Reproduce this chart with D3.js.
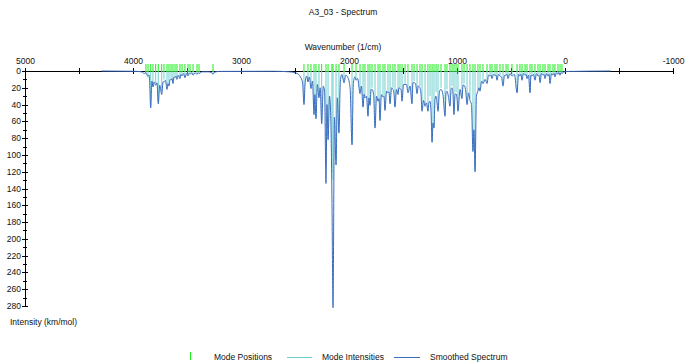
<!DOCTYPE html>
<html lang="en">
<head>
  <meta charset="UTF-8">
  <title>A3_03 - Spectrum</title>
  <script src="https://d3js.org/d3.v7.min.js"></script>
  <style>
    body { margin: 0; background: #fff; }
    text { font-family: "Liberation Sans", Arial, sans-serif; font-size: 8.5px; fill: #111; }
    .axis path, .axis line { stroke: #000; shape-rendering: crispEdges; }
  </style>
</head>
<body>
  <script>
    const width = 685, height = 362;

    // mode positions (1/cm) and their intensities (km/mol)
    const modeWavenumbers = [
      3880, 3861, 3836, 3815, 3790, 3766, 3734, 3713, 3685, 3667, 3648, 3630, 3611, 3593,
      3565, 3546, 3519, 3491, 3472, 3444, 3407, 3389, 3259,
      2417, 2380, 2352, 2324, 2306, 2278, 2253, 2213, 2194, 2158, 2148, 2120, 2093, 2046,
      1972, 1935, 1898, 1870, 1852, 1824, 1806, 1787, 1759, 1731, 1713, 1685, 1667, 1639,
      1620, 1593, 1574, 1546, 1528, 1509, 1481, 1454, 1417, 1398, 1370, 1343, 1324, 1296,
      1269, 1250, 1231, 1213, 1194, 1176, 1148, 1111, 1093, 1065, 1046, 1028, 1009, 991,
      954, 935, 907, 880, 852, 833, 806, 787, 759, 722, 694, 676, 648, 630, 602, 574, 546,
      528, 491, 444, 417, 398, 370, 352, 324, 306, 278, 250, 231, 204, 185, 157, 139, 111,
      93, 65, 46, 28
    ];
    const modeIntensities = [
      3, 8, 42, 17, 14, 37, 25, 10, 19, 15, 9, 14, 6, 8,
      7, 4, 7, 5, 3, 4, 3, 2, 3,
      38, 12, 20, 50, 56, 30, 62, 110, 80, 120, 130, 105, 73, 14,
      86, 10, 25, 42, 30, 52, 39, 20, 66, 35, 58, 30, 46, 25,
      38, 20, 42, 27, 20, 35, 15, 25, 38, 12, 26, 18, 46, 40,
      46, 30, 84, 66, 25, 46, 20, 52, 22, 40, 18, 50, 25, 46,
      31, 15, 38, 33, 94, 118, 23, 23, 14, 14, 5, 8, 4, 10, 5, 17, 4,
      8, 5, 25, 5, 10, 4, 8, 25, 5, 10, 5, 13, 4, 8, 5, 14, 4,
      6, 3, 4, 2
    ];

    // smoothed spectrum
    const smoothWavenumbers = [
      4290, 4000, 3920, 3895, 3880, 3865, 3850, 3836, 3825, 3815, 3803, 3790, 3778, 3766,
      3752, 3734, 3722, 3713, 3700, 3685, 3676, 3667, 3656, 3648, 3638, 3630, 3620, 3611,
      3602, 3593, 3580, 3565, 3555, 3546, 3532, 3519, 3505, 3491, 3480, 3472, 3458, 3444,
      3425, 3407, 3396, 3389, 3360, 3300, 3272, 3259, 3247, 3200, 2700, 2550, 2480, 2450,
      2430, 2417, 2405, 2392, 2380, 2367, 2352, 2338, 2324, 2316, 2306, 2293, 2278, 2267,
      2253, 2238, 2226, 2213, 2204, 2194, 2180, 2168, 2158, 2148, 2135, 2120, 2108, 2093,
      2080, 2066, 2046, 2030, 2010, 1990, 1972, 1960, 1945, 1935, 1920, 1898, 1885, 1870,
      1860, 1852, 1838, 1824, 1815, 1806, 1795, 1787, 1772, 1759, 1745, 1731, 1722, 1713,
      1700, 1685, 1676, 1667, 1652, 1639, 1630, 1620, 1606, 1593, 1585, 1574, 1560, 1546,
      1538, 1528, 1518, 1509, 1495, 1481, 1468, 1454, 1435, 1417, 1408, 1398, 1384, 1370,
      1358, 1343, 1333, 1324, 1310, 1296, 1283, 1269, 1260, 1250, 1240, 1231, 1222, 1213,
      1204, 1194, 1185, 1176, 1162, 1148, 1130, 1111, 1102, 1093, 1080, 1065, 1055, 1046,
      1037, 1028, 1018, 1009, 1000, 991, 972, 954, 944, 935, 921, 907, 893, 880, 866, 852,
      843, 833, 820, 806, 796, 787, 772, 759, 740, 722, 708, 694, 685, 676, 662, 648, 639,
      630, 616, 602, 588, 574, 560, 546, 537, 528, 510, 491, 468, 444, 430, 417, 408, 398,
      385, 370, 361, 352, 338, 324, 315, 306, 292, 278, 264, 250, 240, 231, 218, 204, 195,
      185, 171, 157, 148, 139, 125, 111, 102, 93, 79, 65, 56, 46, 37, 28, 10, -50, -420
    ];
    const smoothIntensities = [
      0, 0.3, 1, 3, 2, 6, 5, 44, 12, 19, 13, 17, 14, 39,
      17, 28, 13, 13, 11, 22, 15, 18, 10, 11, 9, 15, 7, 8,
      6, 10, 5, 9, 4, 6, 3, 8, 3, 6, 3, 4, 2, 5,
      2, 4, 2, 3, 1, 1, 2, 4, 1.5, 0.5, 0.3, 1, 3, 7,
      14, 40, 12, 6, 13, 7, 21, 12, 52, 28, 57, 16, 32, 20,
      63, 18, 24, 134, 40, 82, 30, 60, 150, 282, 55, 112, 32, 74,
      12, 4, 14, 5, 8, 20, 88, 15, 7, 11, 9, 27, 18, 43,
      28, 32, 30, 54, 32, 41, 22, 22, 28, 68, 30, 36, 33, 59,
      28, 31, 30, 47, 24, 26, 25, 39, 20, 22, 25, 43, 22, 28,
      20, 21, 22, 36, 16, 16, 16, 26, 18, 39, 14, 14, 15, 27,
      18, 20, 28, 48, 35, 42, 38, 48, 38, 36, 50, 85, 62, 68,
      34, 30, 38, 48, 24, 22, 28, 54, 26, 24, 30, 42, 22, 20,
      28, 52, 28, 27, 32, 48, 22, 33, 17, 17, 22, 40, 26, 35, 40, 96,
      70, 120, 30, 24, 20, 24, 12, 15, 10, 15, 5, 6, 5, 9, 4, 5, 5,
      11, 4, 6, 7, 18, 5, 5, 4, 9, 3, 6, 4, 26, 4, 6, 4, 11,
      3, 5, 4, 9, 5, 26, 5, 6, 4, 11, 3, 6, 5, 14, 3, 5, 4,
      9, 3, 6, 4, 15, 3, 5, 3, 7, 2, 4, 2, 5, 2, 3, 1, 0.5, 0
    ];

    const xTicks = d3.range(5000, -1001, -500);
    const yTicks = d3.range(0, 281, 10);

    const svg = d3.select("body").append("svg")
      .attr("width", width)
      .attr("height", height);

    const x = d3.scaleLinear().domain([5000, -1000]).range([25, 673]);
    const y = d3.scaleLinear().domain([0, 280]).range([71, 306]);

    // titles
    svg.append("text").attr("x", 343).attr("y", 15).attr("text-anchor", "middle").text("A3_03 - Spectrum");
    svg.append("text").attr("x", 343).attr("y", 50).attr("text-anchor", "middle").text("Wavenumber (1/cm)");
    svg.append("text").attr("x", 10).attr("y", 325).text("Intensity (km/mol)");

    // x axis (labels on top, ticks crossing the line)
    const xAxis = svg.append("g")
      .attr("class", "axis")
      .attr("transform", `translate(0,${y(0)})`)
      .call(d3.axisTop(x).tickValues(xTicks).tickSize(3).tickSizeOuter(0)
        .tickFormat(d => d % 1000 === 0 ? d : ""));
    xAxis.selectAll(".tick line").attr("y1", 3);
    xAxis.selectAll(".tick text").attr("y", -7.5).attr("dy", 0).style("font-size", "8.5px")
      .style("font-family", "'Liberation Sans', Arial, sans-serif").style("fill", "#111");
    xAxis.select(".domain").remove();
    xAxis.append("line").attr("x1", x(5000)).attr("x2", x(-1000)).attr("y1", 0).attr("y2", 0).attr("stroke", "#000");

    // y axis
    const yAxis = svg.append("g")
      .attr("class", "axis")
      .attr("transform", `translate(${x(5000)},0)`)
      .call(d3.axisLeft(y).tickValues(yTicks).tickSize(3).tickSizeOuter(0)
        .tickFormat(d => d % 20 === 0 ? d : ""));
    yAxis.selectAll(".tick line")
      .attr("x1", d => d % 20 === 0 ? 3 : 2)
      .attr("x2", d => d % 20 === 0 ? -3 : -2);
    yAxis.selectAll(".tick text").attr("x", -4).attr("dy", "0.3em").style("font-size", "8.5px")
      .style("font-family", "'Liberation Sans', Arial, sans-serif").style("fill", "#111");
    yAxis.select(".domain").remove();
    yAxis.append("line").attr("x1", 0).attr("x2", 0).attr("y1", y(0)).attr("y2", y(280)).attr("stroke", "#000");

    // mode intensities as sticks
    const modes = modeWavenumbers.map((w, i) => ({ w: w, v: modeIntensities[i] }));
    svg.append("g").selectAll("line")
      .data(modes)
      .join("line")
      .attr("x1", d => x(d.w)).attr("x2", d => x(d.w))
      .attr("y1", y(0)).attr("y2", d => y(d.v))
      .attr("stroke", "#6fd0cf")
      .attr("stroke-width", 1);

    // smoothed spectrum
    const smooth = smoothWavenumbers.map((w, i) => ({ w: w, v: smoothIntensities[i] }));
    const line = d3.line()
      .x(d => x(d.w))
      .y(d => y(d.v))
      .curve(d3.curveMonotoneX);
    svg.append("path")
      .datum(smooth)
      .attr("fill", "none")
      .attr("stroke", "#3b6cc0")
      .attr("stroke-width", 1)
      .attr("d", line);

    // mode positions
    svg.append("g").selectAll("line")
      .data(modes)
      .join("line")
      .attr("x1", d => x(d.w)).attr("x2", d => x(d.w))
      .attr("y1", y(0) - 7).attr("y2", y(0) + 1)
      .attr("stroke", "#1aef1a")
      .attr("stroke-width", 1);

    // legend
    const lg = svg.append("g");
    lg.append("line").attr("x1", 190.5).attr("x2", 190.5).attr("y1", 352).attr("y2", 360).attr("stroke", "#1aef1a");
    lg.append("text").attr("x", 214).attr("y", 360).text("Mode Positions");
    lg.append("line").attr("x1", 287).attr("x2", 312).attr("y1", 357.5).attr("y2", 357.5).attr("stroke", "#6fd0cf");
    lg.append("text").attr("x", 322).attr("y", 360).text("Mode Intensities");
    lg.append("line").attr("x1", 394).attr("x2", 420).attr("y1", 357.5).attr("y2", 357.5).attr("stroke", "#3b6cc0");
    lg.append("text").attr("x", 430).attr("y", 360).text("Smoothed Spectrum");
  </script>
</body>
</html>
